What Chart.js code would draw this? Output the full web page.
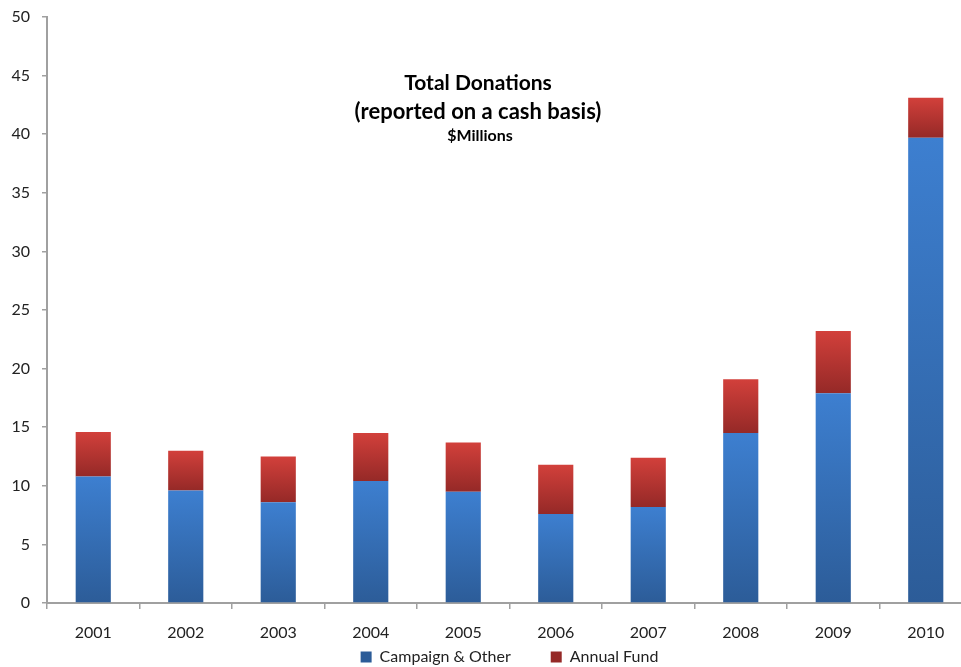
<!DOCTYPE html>
<html>
<head>
<meta charset="utf-8">
<script src="https://cdn.jsdelivr.net/npm/chart.js@4.4.0/dist/chart.umd.min.js"></script>
<style>
  html, body { margin: 0; padding: 0; background: #fff; overflow: hidden; }
  #wrap { width: 972px; height: 667px; position: relative; }
</style>
</head>
<body>
<div id="wrap"><canvas id="donations"></canvas></div>
<script>
const years = ['2001', '2002', '2003', '2004', '2005', '2006', '2007', '2008', '2009', '2010'];
const campaignOther = [10.8, 9.6, 8.6, 10.4, 9.5, 7.6, 8.2, 14.5, 17.9, 39.7];
const annualFund = [3.8, 3.4, 3.9, 4.1, 4.2, 4.2, 4.2, 4.6, 5.3, 3.4];
const titleLines = ['Total Donations', '(reported on a cash basis)', '$Millions'];

const FONT = 'Lato, "Open Sans", sans-serif';

// vertical gradient per bar segment, lighter at the top like the Excel fill
function segmentFill(topCol, bottomCol, flat) {
  return ctx => {
    const chart = ctx.chart;
    if (ctx.dataIndex === undefined || !chart.chartArea || !chart.scales.y) return flat;
    const i = ctx.dataIndex;
    const base = ctx.datasetIndex === 0 ? 0 : campaignOther[i];
    const top = base + (ctx.datasetIndex === 0 ? campaignOther[i] : annualFund[i]);
    const y = chart.scales.y;
    const g = chart.ctx.createLinearGradient(0, y.getPixelForValue(top), 0, y.getPixelForValue(base));
    g.addColorStop(0, topCol);
    g.addColorStop(1, bottomCol);
    return g;
  };
}

const titleInPlot = {
  id: 'titleInPlot',
  afterDraw(chart) {
    const c = chart.ctx;
    c.save();
    c.fillStyle = '#000';
    c.textAlign = 'center';
    c.textBaseline = 'middle';
    c.font = 'bold 21px ' + FONT;
    c.fillText(titleLines[0], 478, 83);
    c.font = 'bold 22px ' + FONT;
    c.fillText(titleLines[1], 478, 112);
    c.font = 'bold 16px ' + FONT;
    c.fillText(titleLines[2], 480, 136);
    c.restore();
  }
};

new Chart(document.getElementById('donations'), {
  type: 'bar',
  data: {
    labels: years,
    datasets: [{
      label: 'Campaign & Other',
      data: campaignOther,
      backgroundColor: segmentFill('#3d7fd0', '#2c5c98', '#3a76c6'),
      barPercentage: 0.38,
      categoryPercentage: 1
    }, {
      label: 'Annual Fund',
      data: annualFund,
      backgroundColor: segmentFill('#d2403b', '#952927', '#c43a35'),
      barPercentage: 0.38,
      categoryPercentage: 1
    }]
  },
  options: {
    responsive: true,
    maintainAspectRatio: false,
    animation: false,
    layout: { padding: { left: 0, right: 0, top: 17, bottom: -8 } },
    scales: {
      x: {
        stacked: true,
        afterFit: s => { s.height = 38; },
        border: { color: '#a0a0a0', width: 2 },
        grid: { display: true, drawOnChartArea: false, color: '#a0a0a0', tickLength: 6, lineWidth: 1.5 },
        ticks: { color: '#222', font: { family: FONT, size: 16 }, padding: 14 }
      },
      y: {
        stacked: true,
        min: 0,
        max: 50,
        afterFit: s => { s.width = 47; s.paddingTop = 0; },
        border: { color: '#a0a0a0', width: 2 },
        grid: { display: true, drawOnChartArea: false, color: '#a0a0a0', tickLength: 5, lineWidth: 1.5 },
        ticks: { stepSize: 5, color: '#222', font: { family: FONT, size: 16 }, padding: 12 }
      }
    },
    plugins: {
      title: { display: false },
      tooltip: { enabled: false },
      legend: {
        position: 'bottom',
        fullSize: false,
        labels: {
          boxWidth: 11,
          boxHeight: 11,
          padding: 8,
          color: '#222',
          font: { family: FONT, size: 16 },
          generateLabels: chart => {
            const items = Chart.defaults.plugins.legend.labels.generateLabels(chart);
            items[0].text = items[0].text + '\u2003\u2003\u2002';
            items.forEach(it => { it.lineWidth = 0; });
            return items;
          }
        }
      }
    }
  },
  plugins: [titleInPlot]
});
</script>
</body>
</html>
